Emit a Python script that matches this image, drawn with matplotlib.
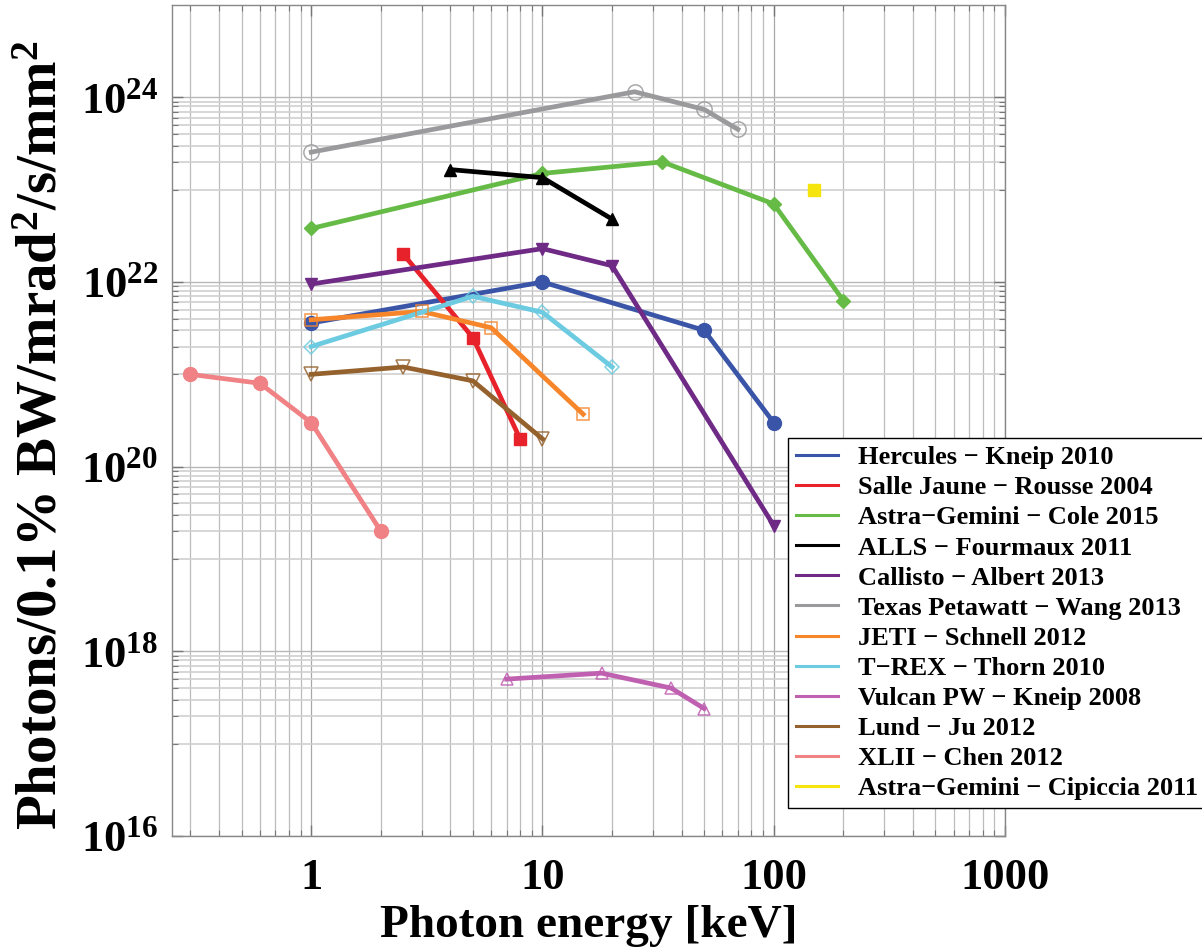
import numpy as np
import matplotlib
matplotlib.use('Agg')
import matplotlib.pyplot as plt
from matplotlib.lines import Line2D
from matplotlib.ticker import FixedLocator, FuncFormatter, NullFormatter

plt.rcParams['font.family'] = ['Liberation Serif', 'DejaVu Serif']
plt.rcParams['font.weight'] = 'bold'
plt.rcParams['axes.labelweight'] = 'bold'
plt.rcParams['mathtext.fontset'] = 'custom'
plt.rcParams['mathtext.rm'] = 'Liberation Serif:bold'
plt.rcParams['mathtext.it'] = 'Liberation Serif:bold'
plt.rcParams['mathtext.bf'] = 'Liberation Serif:bold'
plt.rcParams['mathtext.default'] = 'rm'

# data (photon energy in keV, brilliance)
hercules_x = [1, 10, 50, 100]
hercules_y = [3.6e21, 1.0e22, 3.0e21, 3.0e20]
salle_x = [2.5, 5, 8]
salle_y = [2.0e22, 2.5e21, 2.0e20]
cole_x = [1, 10, 33, 100, 200]
cole_y = [3.8e22, 1.5e23, 2.0e23, 7.0e22, 6.3e21]
alls_x = [4, 10, 20]
alls_y = [1.65e23, 1.35e23, 4.8e22]
callisto_x = [1, 10, 20, 100]
callisto_y = [9.5e21, 2.3e22, 1.5e22, 2.3e19]
texas_x = [1, 25, 50, 70]
texas_y = [2.55e23, 1.15e24, 7.4e23, 4.5e23]
jeti_x = [1, 3, 6, 15]
jeti_y = [3.9e21, 4.8e21, 3.2e21, 3.7e20]
trex_x = [1, 5, 10, 20]
trex_y = [2.0e21, 7.0e21, 4.7e21, 1.2e21]
vulcan_x = [7, 18, 36, 50]
vulcan_y = [5.0e17, 5.8e17, 4.0e17, 2.4e17]
lund_x = [1, 2.5, 5, 10]
lund_y = [1.0e21, 1.2e21, 8.5e20, 2.0e20]
xlii_x = [0.3, 0.6, 1, 2]
xlii_y = [1.0e21, 8.0e20, 3.0e20, 2.0e19]
cipiccia_x = [150]
cipiccia_y = [1.0e23]

labels = ['Hercules \u2212 Kneip 2010', 'Salle Jaune \u2212 Rousse 2004',
          'Astra\u2212Gemini \u2212 Cole 2015', 'ALLS \u2212 Fourmaux 2011',
          'Callisto \u2212 Albert 2013', 'Texas Petawatt \u2212 Wang 2013',
          'JETI \u2212 Schnell 2012', 'T\u2212REX \u2212 Thorn 2010',
          'Vulcan PW \u2212 Kneip 2008', 'Lund \u2212 Ju 2012',
          'XLII \u2212 Chen 2012', 'Astra\u2212Gemini \u2212 Cipiccia 2011']
colors = ['#3a55a8', '#e8222b', '#66bb46', '#000000', '#6f2a86', '#9a9a9c',
          '#f7862b', '#6ccbe0', '#c060b1', '#95622e', '#f08184', '#f5e50c']

series = [
    (hercules_x, hercules_y, 'o', True, 10),
    (salle_x, salle_y, 's', True, 8),
    (cole_x, cole_y, 'D', True, 7.5),
    (alls_x, alls_y, '^', True, 9),
    (callisto_x, callisto_y, 'v', True, 9),
    (texas_x, texas_y, 'o', False, 11),
    (jeti_x, jeti_y, 's', False, 9),
    (trex_x, trex_y, 'D', False, 7),
    (vulcan_x, vulcan_y, '^', False, 9),
    (lund_x, lund_y, 'v', False, 10),
    (xlii_x, xlii_y, 'o', True, 10),
]

fig = plt.figure(figsize=(12.02, 9.49), dpi=100)
ax = fig.add_axes([0.1431, 0.1191, 0.6930, 0.8756])
ax.set_xscale('log')
ax.set_yscale('log')
ax.set_xlim(0.25, 1000)
ax.set_ylim(1e16, 1e25)

for (xs, ys, mk, filled, ms), c in zip(series, colors):
    if filled:
        ax.plot(xs, ys, color=c, lw=3.4, marker=mk, ms=ms, mfc=c, mec=c, zorder=3)
    else:
        ax.plot(xs, ys, color=c, lw=3.4, zorder=3)
        ax.plot(xs, ys, ls='none', marker=mk, ms=ms, mfc='none', mec=c,
                mew=1.1, alpha=0.85, zorder=4)
ax.plot(cipiccia_x, cipiccia_y, ls='none', marker='s', ms=8, color=colors[11],
        zorder=3)

# ticks and grid
ax.xaxis.set_major_locator(FixedLocator([1, 10, 100, 1000]))
ax.xaxis.set_minor_locator(FixedLocator(
    [k * 10.0 ** e for e in (-1, 0, 1, 2) for k in range(2, 10)]))
ax.xaxis.set_major_formatter(FuncFormatter(lambda v, p: '%g' % v))
ax.xaxis.set_minor_formatter(NullFormatter())
ax.yaxis.set_major_locator(FixedLocator([1e16, 1e18, 1e20, 1e22, 1e24]))
ax.yaxis.set_minor_locator(FixedLocator(
    [k * 10.0 ** e for e in (17, 19, 21, 23) for k in range(1, 10)]))
ax.yaxis.set_major_formatter(FuncFormatter(
    lambda v, p: r'$10^{%d}$' % round(np.log10(v))))
ax.yaxis.set_minor_formatter(NullFormatter())

ax.grid(which='major', axis='x', color='#a8a8a8', lw=0.9)
ax.grid(which='minor', axis='x', color='#bcbcbc', lw=0.9)
ax.grid(which='major', axis='y', color='#b8b8b8', lw=1.0)
ax.grid(which='minor', axis='y', color='#d0d0d0', lw=1.2)
ax.set_axisbelow(True)

ax.tick_params(which='both', direction='in', top=True, right=True,
               color='#777777', labelsize=32)
ax.tick_params(axis='x', pad=16)
ax.tick_params(axis='y', pad=10)
ax.tick_params(which='major', length=8, width=1)
ax.tick_params(which='minor', length=4, width=0.8)
for s in ax.spines.values():
    s.set_color('#888888')
    s.set_linewidth(1.0)

ax.set_xlabel('Photon energy [keV]', fontsize=34, labelpad=5)
ax.set_ylabel('Photons/0.1% BW/mrad$^{2}$/s/mm$^{2}$', fontsize=41)
ax.yaxis.set_label_coords(-0.124, 0.482)

handles = [Line2D([], [], color=c, lw=2.2) for c in colors]
leg = fig.legend(handles, labels, loc='upper left',
                 bbox_to_anchor=(0.6556, 0.5385),
                 prop={'size': 19, 'weight': 'bold'},
                 handlelength=1.6, handletextpad=0.75, labelspacing=0.25,
                 borderpad=0.3, borderaxespad=0, fancybox=False,
                 edgecolor='black', framealpha=1)
leg.get_frame().set_linewidth(1.0)

fig.savefig('out.png', dpi=100)
